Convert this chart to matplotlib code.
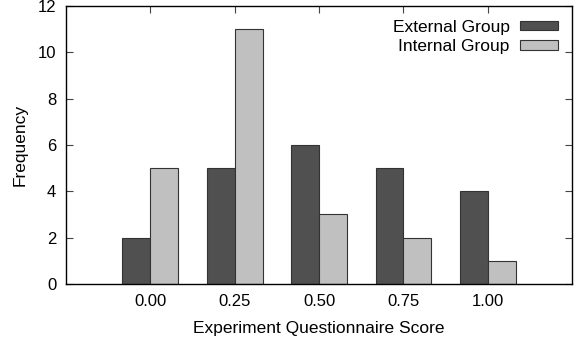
import matplotlib.pyplot as plt
import numpy as np

plt.rcParams['font.family'] = ['Liberation Sans', 'DejaVu Sans']

# questionnaire score bins and counts per group
scores = ["0.00", "0.25", "0.50", "0.75", "1.00"]
external = [2, 5, 6, 5, 4]
internal = [5, 11, 3, 2, 1]

fig, ax = plt.subplots(figsize=(5.78, 3.45), dpi=100)

x = np.arange(len(scores))
width = 0.33
ax.bar(x - width / 2, external, width, color='#505050', edgecolor='#333333',
       linewidth=0.8, label='External Group', zorder=3)
ax.bar(x + width / 2, internal, width, color='#c0c0c0', edgecolor='#333333',
       linewidth=0.8, label='Internal Group', zorder=3)

ax.set_xlim(-1, 5)
ax.set_ylim(0, 12)
ax.set_xticks(x)
ax.set_xticklabels(scores)
ax.set_yticks(range(0, 13, 2))

ax.tick_params(direction='in', top=True, right=True, length=5, width=0.8,
               labelsize=12, color='#444444', pad=7)
for s in ax.spines.values():
    s.set_linewidth(1.0)
    s.set_zorder(5)

ax.set_xlabel("Experiment Questionnaire Score", fontsize=12.5, labelpad=9)
ax.set_ylabel("Frequency", fontsize=12.5, labelpad=7)

leg = ax.legend(loc='upper right', frameon=False, markerfirst=False, fontsize=12.5,
                handlelength=2.2, handleheight=0.45, handletextpad=0.6,
                labelspacing=0.25, borderaxespad=0.4)

plt.subplots_adjust(left=0.114, right=0.99, top=0.983, bottom=0.177)
plt.savefig('out.png', dpi=100)
